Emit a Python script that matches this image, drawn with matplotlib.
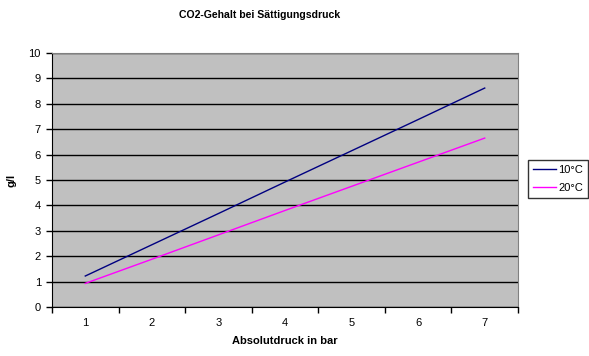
import matplotlib.pyplot as plt

# ── Daten ────────────────────────────────────────────────────────────────────
druck   = [1, 2, 3, 4, 5, 6, 7]
co2_10  = [1.22, 2.45, 3.68, 4.92, 6.15, 7.38, 8.62]
co2_20  = [0.93, 1.88, 2.84, 3.80, 4.75, 5.70, 6.65]
labels  = ['10°C', '20°C']

plt.rcParams['font.family'] = ['Liberation Sans', 'DejaVu Sans']

fig = plt.figure(figsize=(5.89, 3.56), dpi=100)
W, H = 589, 356
ax = fig.add_axes([52 / W, 1 - 307 / H, 466 / W, 254 / H])
ax.set_facecolor('#C0C0C0')

ax.plot(druck, co2_10, color='#000080', lw=1, label=labels[0], zorder=3)
ax.plot(druck, co2_20, color='#FF00FF', lw=1, label=labels[1], zorder=3)

ax.set_xlim(0.5, 7.5)
ax.set_ylim(0, 10)
ax.set_yticks(range(0, 11))
ax.yaxis.grid(True, color='black', lw=1)
ax.set_axisbelow(True)

# Kategorieachse: Striche zwischen den Kategorien, Beschriftung in der Mitte
ax.set_xticks([k + 0.5 for k in range(0, 8)])
ax.set_xticklabels([])
ax.set_xticks(druck, minor=True)
ax.set_xticklabels([str(d) for d in druck], minor=True)
ax.tick_params(axis='x', which='major', length=4, width=1, direction='out')
ax.tick_params(axis='x', which='minor', length=0, pad=8, labelsize=8)
ax.tick_params(axis='y', length=4, width=1, labelsize=8, pad=4)

for s in ['left', 'bottom']:
    ax.spines[s].set_color('black')
for s in ['top', 'right']:
    ax.spines[s].set_color('#808080')

ax.set_xlabel('Absolutdruck in bar', fontsize=8, fontweight='bold', labelpad=6)
ax.set_ylabel('g/l', fontsize=8, fontweight='bold', labelpad=9)
fig.suptitle('CO2-Gehalt bei Sättigungsdruck', fontsize=7.6, fontweight='bold',
             x=260 / W, y=1 - 10 / H, va='top')

leg = ax.legend(loc='upper left', bbox_to_anchor=(528 / W, 1 - 160 / H),
                bbox_transform=fig.transFigure, fontsize=8, frameon=True,
                fancybox=False, edgecolor='black', handlelength=2.1,
                borderpad=0.45, labelspacing=0.75, handletextpad=0.2,
                borderaxespad=0)
leg.get_frame().set_linewidth(1)

fig.savefig('out.png', dpi=100)
